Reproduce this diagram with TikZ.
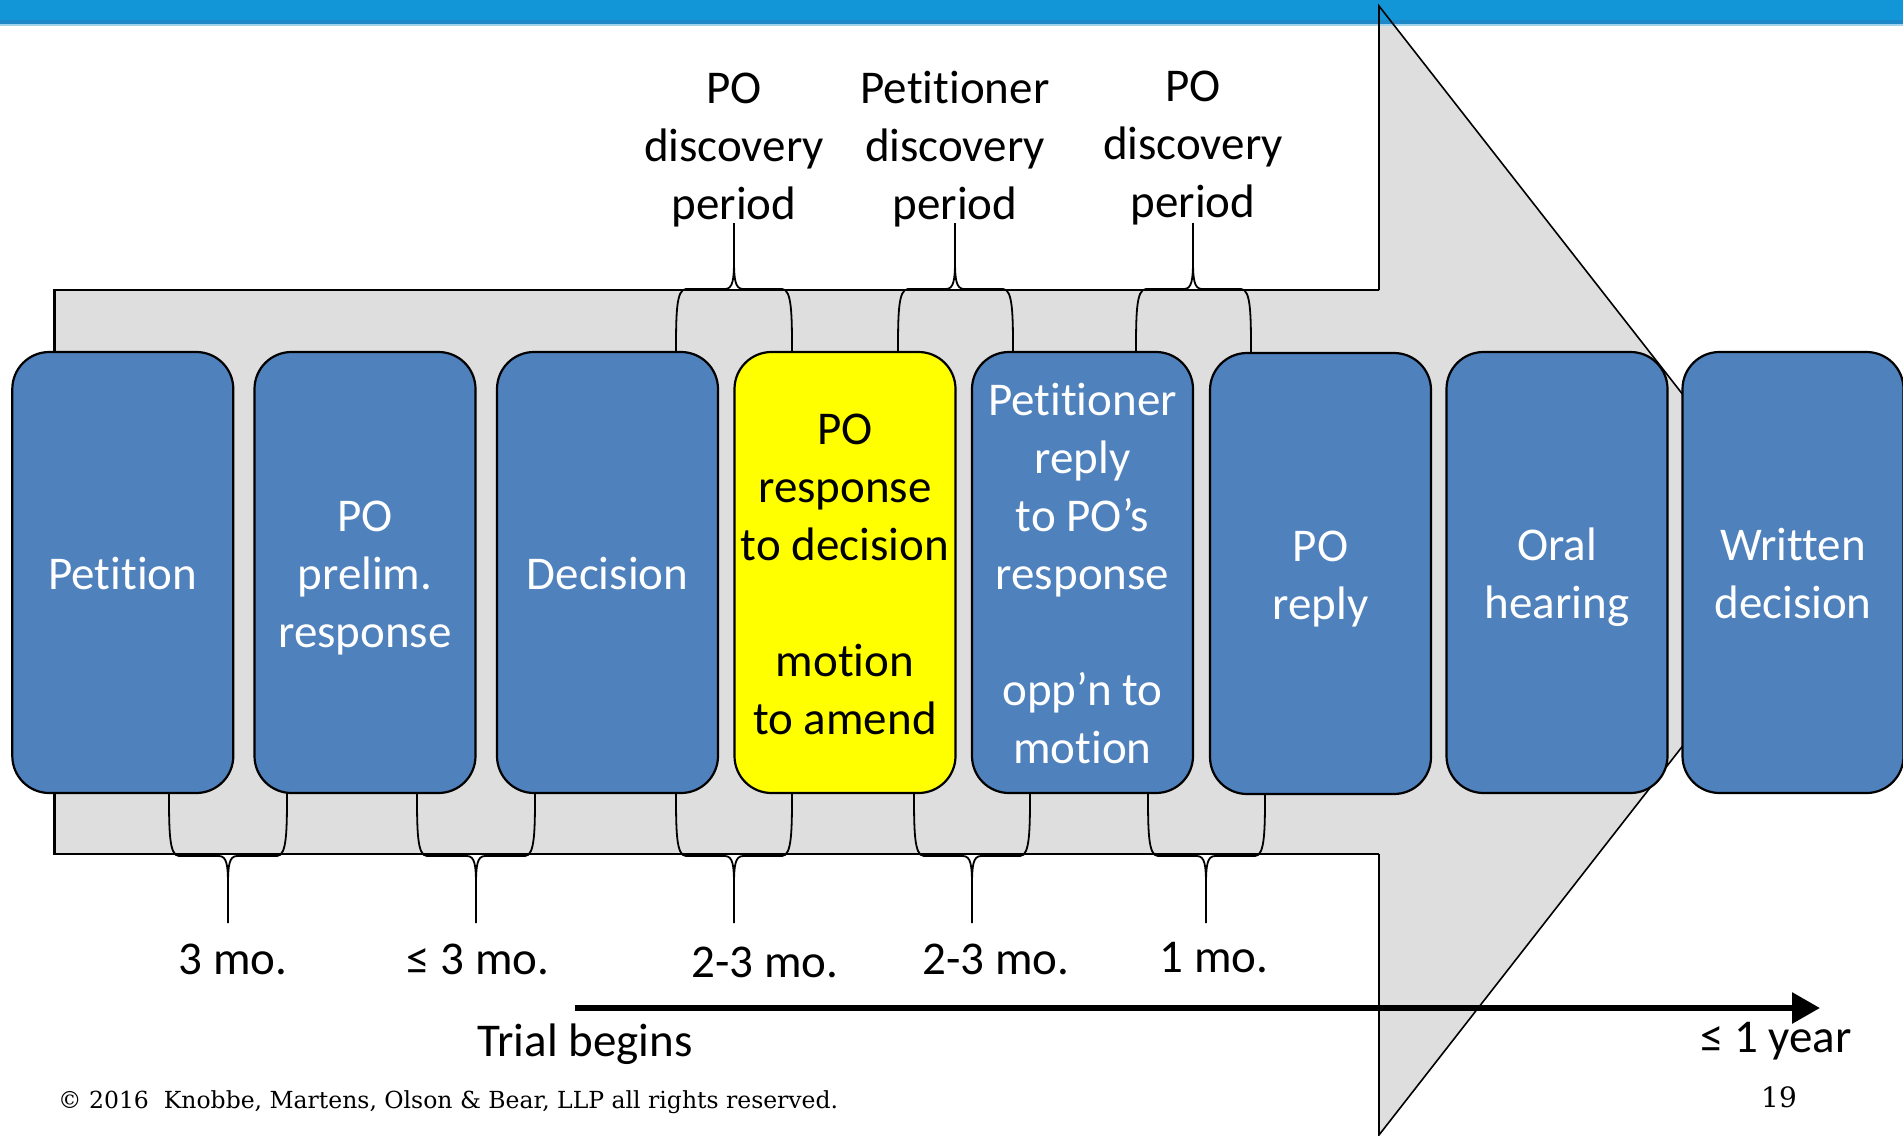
\documentclass[tikz,border=0pt]{standalone}
\usepackage{fontspec}
\setmainfont{Carlito}[Ligatures=NoCommon]
\newfontfamily\cpfont{DejaVu Serif}
\usetikzlibrary{arrows.meta}
\definecolor{boxblue}{RGB}{79,129,189}
\definecolor{hlyellow}{RGB}{255,255,0}
\definecolor{shaftgray}{RGB}{222,222,222}
\definecolor{barblue}{RGB}{18,150,216}
\definecolor{bardark}{RGB}{30,135,200}
\definecolor{barlight}{RGB}{160,210,238}
\newcommand\st{\rule[-12.4pt]{0pt}{58pt}}
\tikzset{
  stage/.style={draw=black, line width=2.2pt, rounded corners=37pt,
    minimum width=221pt, minimum height=441pt, inner sep=0pt,
    text=white, font=\fontsize{47}{58}\selectfont, align=center, fill=boxblue},
  hl/.style={fill=hlyellow, text=black},
  lbl/.style={font=\fontsize{47}{58}\selectfont, align=center, inner sep=0pt},
  cp/.style={font=\cpfont\fontsize{23.5}{28}\selectfont, inner sep=0pt},
  bracepath/.style={draw=black, line width=1.8pt},
}
\newcommand\BraceDown[3]{%
  \draw[bracepath] (#1,790) .. controls (#1,830) and (#1,856) .. (#1+10,856) -- (#2-9,856)
     .. controls (#2-1,856) and (#2,866) .. (#2,885) -- (#2,923);
  \draw[bracepath] (#3,790) .. controls (#3,830) and (#3,856) .. (#3-10,856) -- (#2+9,856)
     .. controls (#2+1,856) and (#2,866) .. (#2,885);}
\newcommand\BraceUp[3]{%
  \draw[bracepath] (#1,355) .. controls (#1,315) and (#1,289) .. (#1+10,289) -- (#2-9,289)
     .. controls (#2-1,289) and (#2,279) .. (#2,260) -- (#2,223);
  \draw[bracepath] (#3,355) .. controls (#3,315) and (#3,289) .. (#3-10,289) -- (#2+9,289)
     .. controls (#2+1,289) and (#2,279) .. (#2,260);}
\begin{document}
\begin{tikzpicture}[x=1pt,y=-1pt]
\useasboundingbox (0,0) rectangle (1903,1135);
\fill[white] (0,0) rectangle (1903,1135);
% big arrow fill
\fill[shaftgray] (54.5,290) -- (1379,290) -- (1379,6) -- (1820,570) -- (1379,1135) -- (1379,854) -- (54.5,854) -- cycle;
% top bar
\fill[barblue] (0,0) rectangle (1903,20);
\fill[bardark] (0,20) rectangle (1903,24);
\fill[barlight] (0,24) rectangle (1903,26);
% big arrow outline
\draw[line width=2.4pt] (1379,290) -- (54.5,290) -- (54.5,854) -- (1379,854);
\draw[line width=1.6pt, line join=miter] (1379,290) -- (1379,6) -- (1820,570) -- (1379,1135) -- (1379,854);
% braces
\BraceUp{676}{734}{792}
\BraceUp{898}{955}{1013}
\BraceUp{1136}{1193}{1251}
\BraceDown{169}{228}{287}
\BraceDown{417}{476}{535}
\BraceDown{676}{734}{792}
\BraceDown{914}{972}{1030}
\BraceDown{1148}{1206}{1265}
% stages
\node[stage] (s1) at (122.8,572.5) {\st Petition};
\node[stage] (s2) at (365,572.5) {\st PO\\prelim.\\\st response};
\node[stage] (s3) at (607.5,572.5) {\st Decision};
\node[stage,hl] (s4) at (845,572.5) {\st PO\\response\\to decision\\\mbox{}\\motion\\\st to amend};
\node[stage] (s5) at (1082.5,572.5) {\st Petitioner\\reply\\to PO’s\\response\\\mbox{}\\opp’n to\\\st motion};
\node[stage] (s6) at (1320.5,573.5) {\st PO\\\st reply};
\node[stage] (s7) at (1557,572.5) {\st Oral\\\st hearing};
\node[stage] (s8) at (1793,572.5) {\st Written\\\st decision};
% top labels
\node[lbl] (d1) at (734,145) {\st PO\\discovery\\\st period};
\node[lbl] (d2) at (955,145) {\st Petitioner\\discovery\\\st period};
\node[lbl] (d3) at (1193,142.6) {\st PO\\discovery\\\st period};
% bottom labels
\node[lbl] (m1) at (233,959) {3 mo.};
\node[lbl] (m2) at (478,959) {≤ 3 mo.};
\node[lbl] (m3) at (765,962) {2-3 mo.};
\node[lbl] (m4) at (996,959) {2-3 mo.};
\node[lbl] (m5) at (1214,958) {1 mo.};
% timeline
\coordinate (t0) at (575,1008);
\coordinate (t1) at (1820,1008);
\draw[line width=6pt, -{Triangle[length=28pt,width=30pt]}] (t0) -- (t1);
\node[lbl] (trial) at (585,1044.6) {Trial begins};
\node[lbl] (year) at (1776,1041.6) {≤ 1 year};
% footer
\node[cp, anchor=west] (cr) at (58,1102) {© 2016~~Knobbe, Martens, Olson \& Bear, LLP all rights reserved.};
\node[cp, font=\cpfont\fontsize{28}{32}\selectfont] (pg) at (1779,1097) {19};
\end{tikzpicture}
\end{document}
